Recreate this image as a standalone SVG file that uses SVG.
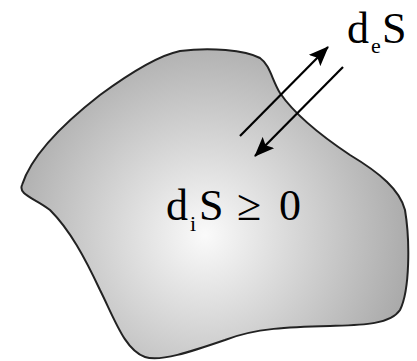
<svg xmlns="http://www.w3.org/2000/svg" width="417" height="361" viewBox="0 0 417 361">
<defs>
<radialGradient id="g" cx="205" cy="235" r="210" gradientUnits="userSpaceOnUse">
<stop offset="0" stop-color="#fafafa"/>
<stop offset="1" stop-color="#a9a9a9"/>
</radialGradient>
<marker id="ah" markerWidth="20" markerHeight="16" viewBox="0 0 20 16" refX="19" refY="8" orient="auto" markerUnits="userSpaceOnUse">
<path d="M0,0 L20,8 L0,16 L4,8 Z" fill="#000"/>
</marker>
<style>
text{font-family:'Liberation Serif','Times New Roman',serif;fill:#000}
.c{stroke:#000;stroke-width:2.2;fill:none}
</style>
</defs>
<g id="body">
<path d="M22,185 C30,160 55,130 100,95 C130,73 160,55 180,51 C210,47 245,50 260,58 C270,65 272,80 280,93 C295,115 320,135 350,155 C380,173 400,190 405,210 C410,240 410,290 400,310 C390,325 360,325 330,326 C290,327 255,328 225,340 C190,352 160,362 145,357 C125,350 115,320 100,290 C85,258 70,230 50,210 C35,198 18,195 22,185 Z" fill="url(#g)" stroke="#222" stroke-width="2"/>
<text x="166" y="220" font-size="44">d</text>
<text x="190" y="231" font-size="22">i</text>
<text x="199" y="220" font-size="44">S</text>
<text x="237" y="220" font-size="44">≥</text>
<text x="279" y="220" font-size="44">0</text>
</g>
<g id="label-e">
<text x="347" y="43" font-size="44">d</text>
<text x="371" y="53" font-size="22">e</text>
<text x="382" y="43" font-size="44">S</text>
</g>
<g id="connectors">
<line class="c" x1="240" y1="136" x2="328" y2="47" marker-end="url(#ah)"/>
<line class="c" x1="343" y1="67" x2="255" y2="156" marker-end="url(#ah)"/>
</g>
</svg>
